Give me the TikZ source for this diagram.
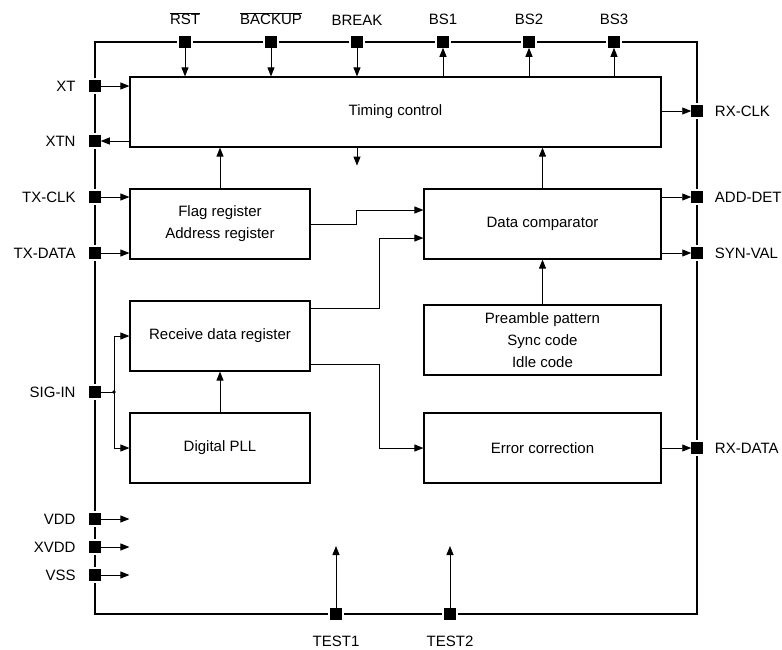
\documentclass[tikz,border=0pt]{standalone}
\usepackage{fontspec}
\setmainfont{Liberation Sans}
\usetikzlibrary{arrows.meta,positioning}

\begin{document}
\begin{tikzpicture}[x=1pt,y=1pt]
\tikzstyle{every node}+=[font=\fontsize{15}{22}\selectfont]
\tikzstyle{blk}=[draw, line width=1.2pt, inner sep=0pt, align=center]
\tikzstyle{padsq}=[fill=black, minimum size=11.5pt, inner sep=0pt, outer sep=0pt, preaction={draw=white, line width=5pt}]
\tikzstyle{lbl}=[inner sep=0pt]
\tikzstyle{conn}=[line width=0.9pt, -{Triangle[length=9pt,width=7pt]}]
\useasboundingbox (0,0) rectangle (782,-649);
\draw [line width=1.1pt] (95,-42) rectangle (697,-614);
\node [blk, minimum width=531pt, minimum height=70pt] (timing) at (395.5,-112) {Timing control};
\node [blk, minimum width=180pt, minimum height=70pt] (flag) at (220,-224) {Flag register\\Address register};
\node [blk, minimum width=237pt, minimum height=70pt] (comp) at (542.5,-224) {Data comparator};
\node [blk, minimum width=180pt, minimum height=70pt] (rxreg) at (220,-336) {Receive data register};
\node [blk, minimum width=237pt, minimum height=70pt] (pattern) at (542.5,-340) {Preamble pattern\\Sync code\\Idle code};
\node [blk, minimum width=180pt, minimum height=70pt] (pll) at (220,-448) {Digital PLL};
\node [blk, minimum width=237pt, minimum height=70pt] (errcorr) at (542.5,-448) {Error correction};
\node [padsq] (pRST) at (185,-42) {};
\node [padsq] (pBKUP) at (271,-42) {};
\node [padsq] (pBRK) at (357,-42) {};
\node [padsq] (pBS1) at (443,-42) {};
\node [padsq] (pBS2) at (529,-42) {};
\node [padsq] (pBS3) at (614,-42) {};
\node [lbl, above=11pt of pRST] (lRST) {$\overline{\mbox{RST}}$};
\node [lbl, above=11pt of pBKUP] (lBKUP) {$\overline{\mbox{BACKUP}}$};
\node [lbl, above=11pt of pBRK] (lBRK) {BREAK};
\node [lbl, above=11pt of pBS1] (lBS1) {BS1};
\node [lbl, above=11pt of pBS2] (lBS2) {BS2};
\node [lbl, above=11pt of pBS3] (lBS3) {BS3};
\node [padsq] (pXT) at (95,-86) {};
\node [padsq] (pXTN) at (95,-141) {};
\node [padsq] (pTXCLK) at (95,-197) {};
\node [padsq] (pTXDAT) at (95,-253) {};
\node [padsq] (pSIG) at (95,-392) {};
\node [padsq] (pVDD) at (95,-519) {};
\node [padsq] (pXVDD) at (95,-547) {};
\node [padsq] (pVSS) at (95,-575) {};
\node [lbl, left=13.5pt of pXT] (lXT) {XT};
\node [lbl, left=13.5pt of pXTN] (lXTN) {XTN};
\node [lbl, left=13.5pt of pTXCLK] (lTXCLK) {TX-CLK};
\node [lbl, left=13.5pt of pTXDAT] (lTXDAT) {TX-DATA};
\node [lbl, left=13.5pt of pSIG] (lSIG) {SIG-IN};
\node [lbl, left=13.5pt of pVDD] (lVDD) {VDD};
\node [lbl, left=13.5pt of pXVDD] (lXVDD) {XVDD};
\node [lbl, left=13.5pt of pVSS] (lVSS) {VSS};
\node [padsq] (pRXCLK) at (697,-111) {};
\node [padsq] (pADD) at (697,-197) {};
\node [padsq] (pSYN) at (697,-253) {};
\node [padsq] (pRXDAT) at (697,-448) {};
\node [lbl, right=12pt of pRXCLK] (lRXCLK) {RX-CLK};
\node [lbl, right=12pt of pADD] (lADD) {ADD-DET};
\node [lbl, right=12pt of pSYN] (lSYN) {SYN-VAL};
\node [lbl, right=12pt of pRXDAT] (lRXDAT) {RX-DATA};
\node [padsq] (pT1) at (336,-614) {};
\node [padsq] (pT2) at (450,-614) {};
\node [lbl, below=16pt of pT1] (lT1) {TEST1};
\node [lbl, below=16pt of pT2] (lT2) {TEST2};
\draw [conn] (pRST) -- (pRST |- timing.north);
\draw [conn] (pBKUP) -- (pBKUP |- timing.north);
\draw [conn] (pBRK) -- (pBRK |- timing.north);
\draw [conn] (pBS1 |- timing.north) -- (pBS1);
\draw [conn] (pBS2 |- timing.north) -- (pBS2);
\draw [conn] (pBS3 |- timing.north) -- (pBS3);
\draw [conn] (pBRK |- timing.south) -- ++(0,-18);
\draw [conn] (pXT) -- (pXT -| timing.west);
\draw [conn] (pXTN -| timing.west) -- (pXTN);
\draw [conn] (pTXCLK) -- (pTXCLK -| flag.west);
\draw [conn] (pTXDAT) -- (pTXDAT -| flag.west);
\draw [conn] (pRXCLK -| timing.east) -- (pRXCLK);
\draw [conn] (pADD -| comp.east) -- (pADD);
\draw [conn] (pSYN -| comp.east) -- (pSYN);
\draw [conn] (pRXDAT -| errcorr.east) -- (pRXDAT);
\draw [conn] (flag.north) -- (flag.north |- timing.south);
\draw [conn] (comp.north) -- (comp.north |- timing.south);
\draw [conn] (pattern.north) -- (comp.south);
\draw [conn] (pll.north) -- (rxreg.south);
\draw [conn] (flag.east) -- ++(46,0) |- ([yshift=14pt]comp.west);
\draw [conn] ([yshift=28pt]rxreg.east) -- ++(69,0) |- ([yshift=-14pt]comp.west);
\draw [conn] ([yshift=-28pt]rxreg.east) -- ++(69,0) |- (errcorr.west);
\coordinate (sigj) at (114,-392);
\draw [line width=0.9pt] (pSIG) -- (sigj);
\fill (sigj) circle (1.8);
\draw [conn] (sigj) |- (rxreg.west);
\draw [conn] (sigj) |- (pll.west);
\draw [conn] (pVDD) -- (pVDD -| pll.west);
\draw [conn] (pXVDD) -- (pXVDD -| pll.west);
\draw [conn] (pVSS) -- (pVSS -| pll.west);
\draw [conn] (pT1) -- ++(0,68);
\draw [conn] (pT2) -- ++(0,68);
\end{tikzpicture}
\end{document}
